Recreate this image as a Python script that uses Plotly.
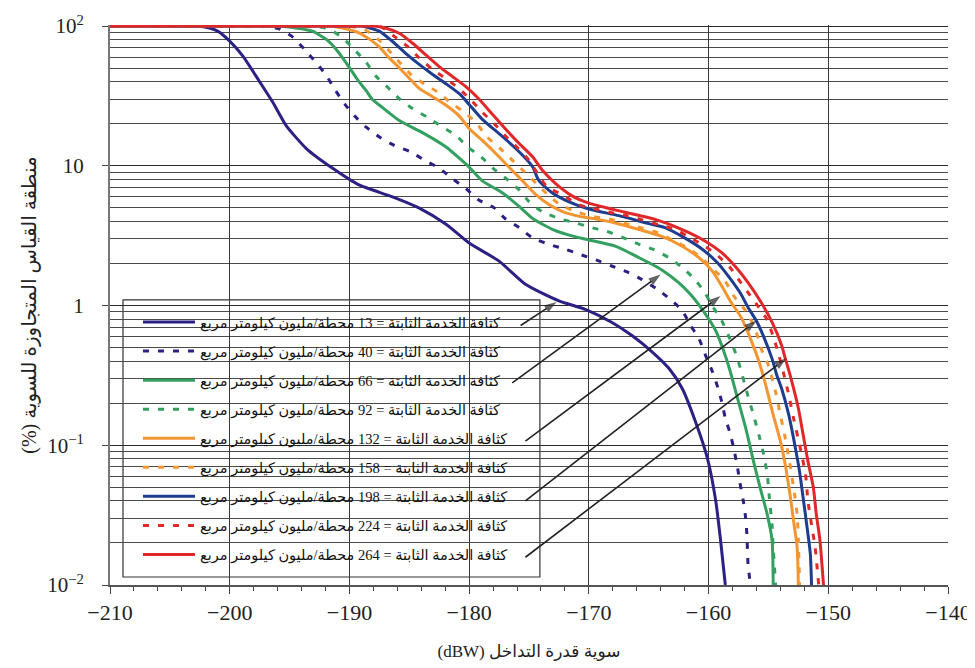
import math
import plotly.graph_objects as go

# ---------------- data (interference level dBW, % of area exceeding) ----------------
densities = [13, 40, 66, 92, 132, 158, 198, 224, 264]

x13 = [-210, -205, -203, -202, -201, -200, -198.9, -197.5, -196.4, -195.3, -193.6, -191.4, -189.2, -186.4, -184.2,
       -181.9, -180, -177.5, -175.3, -172.5, -170.3, -168.1, -166.4, -164.7, -163.3, -162.2, -161.1, -160.1,
       -159.4, -159.0, -158.6]
y13 = [100, 100, 100, 98, 92, 78, 61, 40, 28.5, 19.5, 13.3, 9.6, 7.3, 6.0, 5.0, 3.8, 2.8, 2.08, 1.42, 1.08, 0.94,
       0.76, 0.61, 0.465, 0.354, 0.255, 0.148, 0.081, 0.04, 0.021, 0.01]

x40 = [-210, -199, -197, -195.8, -194.7, -193.75, -192.8, -191.9, -191.25, -190.4, -189.6, -188.6, -187.5, -186.25,
       -184.9, -183.75, -182.5, -181.4, -180.3, -179.2, -177.9, -177, -175.8, -174.7, -173.3, -171.9, -170.6,
       -169.4, -168.1, -166.8, -165.6, -164.3, -163.2, -162.2, -161.5, -160.8, -160.3, -159.7, -159.2, -158.9,
       -158.6, -158.2, -157.9, -157.6, -157.4, -157.1, -156.9, -156.8, -156.7, -156.5]
y40 = [100, 100, 100, 95, 83, 68, 55, 44, 35.5, 27.8, 22.9, 18.9, 16.1, 14.0, 12.6, 11.0, 9.6, 8.1, 6.9, 5.7, 5.0,
       4.2, 3.6, 3.05, 2.74, 2.52, 2.30, 2.12, 1.92, 1.74, 1.54, 1.31, 1.11, 0.92, 0.72, 0.58, 0.45, 0.34, 0.255,
       0.205, 0.156, 0.122, 0.095, 0.071, 0.055, 0.040, 0.030, 0.023, 0.014, 0.01]

x66 = [-210, -198, -196, -195.3, -193.1, -191.9, -191.1, -190.1, -189.2, -188.6, -188.1, -187.2, -185.8, -183.9,
       -181.9, -180.8, -180, -178.9, -177.2, -175.8, -174.7, -173, -171.1, -170, -167.8, -165.8, -163.9, -162.5,
       -161.5, -160.3, -159.4, -158.8, -158.2, -157.6, -156.9, -156.25, -155.7, -155.1, -154.7, -154.6]
y66 = [100, 100, 100, 99, 92, 80, 68, 52, 40, 34.5, 30, 26, 21, 17.3, 13.6, 11.3, 9.8, 7.8, 6.4, 5.1, 4.2, 3.5, 3.1,
       2.95, 2.66, 2.2, 1.8, 1.46, 1.2, 0.88, 0.66, 0.49, 0.34, 0.22, 0.133, 0.077, 0.05, 0.032, 0.021, 0.01]

x92 = [-210, -195, -193, -191.7, -190.6, -189.6, -188.6, -187.8, -186.8, -185.8, -184.7, -183.5, -182.2, -181.1,
       -180.1, -179, -178, -176.9, -175.8, -175, -173.9, -172.5, -171.1, -169.7, -168.5, -167.1, -165.8, -164.6,
       -163.3, -162.2, -161.25, -160.4, -159.7, -158.9, -158.3, -157.8, -157.4, -156.8, -156.25, -155.8, -155.4,
       -155.1, -154.9, -154.7, -154.6, -154.4]
y92 = [100, 100, 100, 95, 83, 68, 55, 44, 36.5, 30, 25.6, 22.3, 18.9, 16.5, 13.6, 11.6, 9.6, 8.1, 6.7, 5.55, 4.7,
       4.2, 3.9, 3.6, 3.4, 3.05, 2.74, 2.52, 2.2, 1.87, 1.57, 1.27, 1.0, 0.78, 0.6, 0.47, 0.37, 0.24, 0.165,
       0.119, 0.086, 0.062, 0.04, 0.027, 0.0186, 0.01]

x132 = [-210, -193.5, -191.5, -190.6, -189.2, -188.3, -187.5, -186.7, -185.8, -185, -184.2, -183.1, -181.9, -180.8,
        -180, -178.9, -177.8, -176.7, -175.6, -174.4, -173.3, -172.2, -170.8, -169.6, -167.8, -165.8, -163.9,
        -162.2, -160.8, -159.7, -158.9, -158.1, -157.3, -156.5, -155.8, -155.3, -154.6, -154, -153.6, -153.2,
        -152.9, -152.6, -152.5]
y132 = [100, 100, 100, 97, 89.6, 80.4, 71, 59.5, 49.9, 42.4, 36, 31.4, 27, 22.6, 18.5, 15.2, 12.3, 9.85, 7.9, 6.2,
        5.26, 4.7, 4.35, 4.19, 3.9, 3.5, 3.13, 2.66, 2.2, 1.77, 1.38, 1.05, 0.83, 0.58, 0.40, 0.286, 0.165,
        0.107, 0.073, 0.0446, 0.0288, 0.0186, 0.01]

x158 = [-210, -192, -190, -188.75, -187.6, -186.8, -185.8, -184.9, -183.75, -182.6, -181.5, -180.4, -179.4, -178.5,
        -177.4, -176.4, -175.4, -174.4, -173.5, -172.5, -171.1, -169.7, -168.3, -166.9, -165.6, -164.2, -163.1,
        -161.8, -160.6, -159.6, -158.6, -157.8, -156.9, -156.1, -155.6, -155, -154.4, -154, -153.6, -153.2,
        -152.9, -152.6, -152.5, -152.4]
y158 = [100, 100, 100, 94.7, 80.4, 68.3, 54.8, 45.4, 38.5, 33.6, 28.1, 24.2, 20.3, 16.1, 13.3, 11.0, 9.1, 7.5, 6.3,
        5.35, 4.7, 4.35, 4.16, 3.86, 3.6, 3.31, 2.97, 2.59, 2.2, 1.82, 1.49, 1.14, 0.92, 0.68, 0.49, 0.373, 0.24,
        0.165, 0.113, 0.073, 0.050, 0.032, 0.021, 0.01]

x198 = [-210, -191, -189, -188.3, -187.5, -186.4, -185.3, -184.2, -183.1, -181.9, -180.8, -180, -178.9, -177.5,
        -176.1, -174.7, -174.2, -173.1, -171.7, -170, -167.5, -165, -163.6, -162, -160.5, -159.2, -158.1, -157.3,
        -156.7, -156, -155.4, -154.7, -154.3, -153.9, -153.3, -152.8, -152.4, -152.1, -151.8, -151.5, -151.4]
y198 = [100, 100, 100, 97, 92, 77.6, 63.8, 53.4, 45.4, 38.5, 32.7, 27.5, 21.5, 17, 13.3, 9.85, 7.9, 6.45, 5.55,
        4.91, 4.4, 3.86, 3.6, 3.05, 2.52, 2.0, 1.52, 1.21, 0.97, 0.776, 0.60, 0.417, 0.317, 0.255, 0.165, 0.101,
        0.065, 0.042, 0.027, 0.0167, 0.01]

x224 = [-210, -189.5, -187.5, -186.3, -185.1, -184.2, -183.1, -181.9, -180.8, -179.8, -178.9, -177.9, -177, -176,
        -175, -174.3, -173.5, -172.2, -170.8, -169.6, -168.2, -166.8, -165.6, -164.2, -162.8, -161.5, -160.3,
        -159.2, -158.2, -157.5, -156.7, -155.8, -155.1, -154.6, -154.2, -153.8, -153.3, -152.9, -152.4, -151.9,
        -151.7, -151.4, -151.1, -150.8]
y224 = [100, 100, 100, 85, 71, 59.5, 49.3, 41.8, 35.5, 29.3, 24.2, 20, 16.5, 13.6, 11, 8.84, 7.1, 6.2, 5.26, 4.95,
        4.64, 4.4, 4.12, 3.8, 3.5, 3.05, 2.66, 2.26, 1.87, 1.54, 1.24, 0.97, 0.79, 0.6, 0.465, 0.345, 0.229,
        0.156, 0.101, 0.062, 0.040, 0.027, 0.0186, 0.01]

x264 = [-210, -190, -188, -187, -185.8, -184.7, -183.6, -182.5, -181.4, -180.3, -179.2, -178.1, -177, -175.8,
        -174.7, -173.9, -172.8, -171.4, -170, -167.2, -164.4, -162.2, -160.3, -158.9, -157.8, -156.7, -155.6,
        -154.7, -153.9, -153.6, -153.2, -152.5, -152.1, -151.7, -151.25, -151, -150.7, -150.4]
y264 = [100, 100, 100, 97, 88.5, 75.1, 62, 51.3, 43.6, 37, 30.2, 23.6, 18.5, 14.4, 11.6, 9.33, 7.5, 6.1, 5.41,
        4.7, 4.12, 3.5, 2.9, 2.39, 1.92, 1.46, 1.05, 0.76, 0.52, 0.42, 0.32, 0.184, 0.119, 0.077, 0.050, 0.032,
        0.021, 0.01]

x_ticks = [-210, -200, -190, -180, -170, -160, -150, -140]
y_tickvals = [0.01, 0.1, 1, 10, 100]
y_ticktext = ["10<sup>\u22122</sup>", "10<sup>\u22121</sup>", "1", "10", "10<sup>2</sup>"]

# pointer arrows: tail (inside the legend box) -> tip (on the solid curve)
arrow_tail_x = [-175.7, -176.4, -175.3, -175.3, -175.3]
arrow_tail_y = [0.72, 0.28, 0.107, 0.04, 0.0158]
arrow_tip_x = [-172.7, -164.0, -159.0, -156.0, -153.5]
arrow_tip_y = [1.06, 1.67, 1.17, 0.78, 0.42]

label_tpl = "كثافة الخدمة الثابتة = {} محطة/مليون كيلومتر مربع"
x_title = "\u202Bسوية قدرة التداخل (dBW)\u202C"
y_title = "\u202Bمنطقة القياس المتجاوزة للسوية (%)\u202C"

# ---------------- styling ----------------
series = [(x13, y13), (x40, y40), (x66, y66), (x92, y92), (x132, y132),
          (x158, y158), (x198, y198), (x224, y224), (x264, y264)]
colors = ["#2b2083", "#2b2083", "#33a060", "#33a060", "#f39530", "#f39530", "#1f3d8e", "#e02a2a", "#e0282a"]
dashes = ["solid", "6px,9px", "solid", "6px,9px", "solid", "6px,9px", "solid", "6px,9px", "solid"]

SERIF = "Liberation Serif, Times New Roman, DejaVu Sans, serif"

fig = go.Figure()
for i, ((xs, ys), d) in enumerate(zip(series, densities)):
    fig.add_trace(go.Scatter(
        x=xs, y=ys, mode="lines",
        name=label_tpl.format(d),
        legendgroup="g%d" % i,
        line=dict(color=colors[i], width=3, dash=dashes[i], shape="spline", smoothing=0.6),
        hoverinfo="skip",
    ))

for sx, sy, tx, ty in zip(arrow_tail_x, arrow_tail_y, arrow_tip_x, arrow_tip_y):
    fig.add_trace(go.Scatter(
        x=[sx, tx], y=[sy, ty], mode="lines+markers",
        line=dict(color="#222222", width=1.6),
        marker=dict(symbol="arrow", size=[0, 13], color="#222222", angleref="previous",
                    line=dict(width=0)),
        showlegend=False, hoverinfo="skip",
    ))

fig.update_xaxes(
    range=[-210, -140], tickvals=x_ticks, automargin=False, ticklabeloverflow="allow",
    showgrid=True, gridcolor="#3a3a3a", gridwidth=1,
    showline=True, linecolor="#555555", linewidth=1.5,
    ticks="outside", ticklen=7, tickcolor="#444444", tickwidth=1.2,
    minor=dict(dtick=2, ticks="outside", ticklen=4, tickcolor="#444444", showgrid=False),
    zeroline=False,
    tickfont=dict(family=SERIF, size=22, color="#222222"),
    title=dict(text=x_title, font=dict(family=SERIF, size=17, color="#222222"), standoff=21),
)

minor_vals = [k * 10 ** n for n in range(-2, 2) for k in range(2, 10)]
fig.update_yaxes(
    type="log", range=[-2, 2.008], automargin=False,
    tickvals=y_tickvals, ticktext=y_ticktext,
    showgrid=True, gridcolor="#2a2a2a", gridwidth=1,
    showline=True, linecolor="#777777", linewidth=2,
    ticks="outside", ticklen=6, tickcolor="#444444",
    ticklabelstandoff=14,
    minor=dict(tickvals=minor_vals, showgrid=True, gridcolor="#4a4a4a", gridwidth=1, ticks=""),
    zeroline=False,
    tickfont=dict(family=SERIF, size=21, color="#222222"),
    title=dict(text=y_title, font=dict(family=SERIF, size=20, color="#222222"), standoff=5),
)

# the page body adds an 8px offset, so the figure is sized/margined to land the
# plot area where the reference has it (x 110..948, y 25..585 in the page)
fig.update_layout(
    width=967, height=660,
    margin=dict(l=102, r=27, t=17, b=83),
    paper_bgcolor="white", plot_bgcolor="white",
    showlegend=True,
    legend=dict(
        x=0.0334, y=0.498, xanchor="left", yanchor="top",
        bgcolor="rgba(0,0,0,0)", borderwidth=0,
        font=dict(family=SERIF, size=14.5, color="#111111"),
        traceorder="grouped", tracegroupgap=7.2, itemwidth=52,
    ),
    shapes=[dict(type="rect", xref="paper", yref="paper",
                 x0=0.0155, x1=0.513, y0=0.0143, y1=0.509,
                 fillcolor="white", line=dict(color="#333333", width=1.2), layer="between")],
)

fig.write_html("out.html")
